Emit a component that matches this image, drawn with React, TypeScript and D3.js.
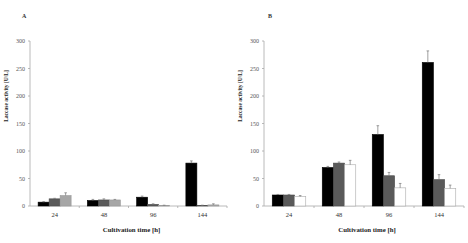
import React from "react";
import * as d3 from "d3";

const categories = ["24", "48", "96", "144"];
const yTicks = [0, 50, 100, 150, 200, 250, 300];

const aBlack = [7, 10, 16, 78];
const aDark = [13, 11, 3, 1];
const aLight = [19, 11, 1, 2];
const aBlackErr = [1, 2, 2, 4];
const aDarkErr = [1, 2, 1, 0.5];
const aLightErr = [5, 1, 0.5, 2];

const bBlack = [20, 70, 130, 261];
const bDark = [20, 78, 55, 48];
const bWhite = [17, 75, 33, 32];
const bBlackErr = [1, 2, 16, 21];
const bDarkErr = [1, 2, 6, 9];
const bWhiteErr = [2, 8, 8, 6];

type Series = { values: number[]; errs: number[]; fill: string; stroke: string };

function Panel(props: {
  x0: number;
  x1: number;
  letter: string;
  letterX: number;
  yLabel: string;
  yLabelX: number;
  series: Series[];
}) {
  const { x0, x1, letter, letterX, yLabel, yLabelX, series } = props;
  const y = d3.scaleLinear().domain([0, 300]).range([206, 41]);
  const xb = d3.scaleBand<string>().domain(categories).range([x0, x1]).padding(0);
  const bw = xb.bandwidth();
  const sub = d3
    .scaleBand<number>()
    .domain(series.map((_, i) => i))
    .range([bw * 0.165, bw * 0.835])
    .padding(0);
  const font = "'Liberation Serif', 'DejaVu Serif', serif";
  const axisColor = "#a8a8a8";
  return (
    <g fontFamily={font}>
      <text x={letterX} y={18} fontSize={6} fontWeight="bold" fill="#333">
        {letter}
      </text>
      {/* y axis */}
      <line x1={x0} x2={x0} y1={y(300)} y2={y(0)} stroke={axisColor} strokeWidth={0.8} />
      {yTicks.map((t) => (
        <g key={t}>
          <line x1={x0 - 2} x2={x0} y1={y(t)} y2={y(t)} stroke={axisColor} strokeWidth={0.8} />
          <text x={x0 - 5} y={y(t) + 2} fontSize={6} textAnchor="end" fill="#555">
            {t}
          </text>
        </g>
      ))}
      {/* x axis */}
      <line x1={x0} x2={x1} y1={y(0)} y2={y(0)} stroke={axisColor} strokeWidth={0.8} />
      {categories.map((c) => (
        <g key={c}>
          <line
            x1={(xb(c) as number) + bw}
            x2={(xb(c) as number) + bw}
            y1={y(0)}
            y2={y(0) + 2}
            stroke={axisColor}
            strokeWidth={0.8}
          />
          <text x={(xb(c) as number) + bw / 2} y={217} fontSize={6.5} textAnchor="middle" fill="#333">
            {c}
          </text>
        </g>
      ))}
      {/* bars */}
      {series.map((s, si) =>
        categories.map((c, ci) => {
          const bx = (xb(c) as number) + (sub(si) as number);
          const w = sub.bandwidth();
          const v = s.values[ci];
          const top = y(v);
          const eTop = y(v + s.errs[ci]);
          const cx = bx + w / 2;
          return (
            <g key={`${si}-${c}`}>
              <rect
                x={bx}
                y={top}
                width={w}
                height={y(0) - top}
                fill={s.fill}
                stroke={s.stroke}
                strokeWidth={0.6}
              />
              <line x1={cx} x2={cx} y1={top} y2={eTop} stroke="#777" strokeWidth={0.7} />
              <line x1={cx - 1.3} x2={cx + 1.3} y1={eTop} y2={eTop} stroke="#777" strokeWidth={0.7} />
            </g>
          );
        })
      )}
      <text
        transform={`translate(${yLabelX},${96}) rotate(-90)`}
        fontSize={5.5}
        fontWeight="bold"
        textAnchor="middle"
        fill="#222"
      >
        {yLabel}
      </text>
      <text x={(x0 + x1) / 2 + 3} y={232} fontSize={6.8} fontWeight="bold" textAnchor="middle" fill="#222">
        Cultivation time [h]
      </text>
    </g>
  );
}

export default function App() {
  const seriesA: Series[] = [
    { values: aBlack, errs: aBlackErr, fill: "#000000", stroke: "#000000" },
    { values: aDark, errs: aDarkErr, fill: "#5a5a5a", stroke: "#4a4a4a" },
    { values: aLight, errs: aLightErr, fill: "#a6a6a6", stroke: "#999999" },
  ];
  const seriesB: Series[] = [
    { values: bBlack, errs: bBlackErr, fill: "#000000", stroke: "#000000" },
    { values: bDark, errs: bDarkErr, fill: "#5a5a5a", stroke: "#4a4a4a" },
    { values: bWhite, errs: bWhiteErr, fill: "#ffffff", stroke: "#aaaaaa" },
  ];
  return (
    <svg
      width={468}
      height={243}
      style={{ position: "absolute", left: 0, top: 0, background: "#fff" }}
    >
      <rect x={0} y={0} width={468} height={243} fill="#fff" />
      <Panel
        x0={30}
        x1={227}
        letter="A"
        letterX={22}
        yLabel="Laccase activity [U/L]"
        yLabelX={8}
        series={seriesA}
      />
      <Panel
        x0={264}
        x1={464}
        letter="B"
        letterX={268}
        yLabel="Laccase activity [U/L]"
        yLabelX={242}
        series={seriesB}
      />
    </svg>
  );
}
